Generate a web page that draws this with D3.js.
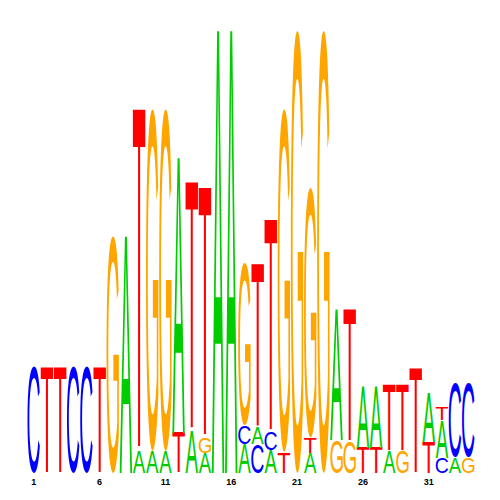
<!DOCTYPE html>
<html>
<head>
<meta charset="utf-8">
<script src="https://cdn.jsdelivr.net/npm/d3@7"></script>
<style>
  body { margin: 0; background: #fff; }
</style>
</head>
<body>
<div id="chart"></div>
<script>
'use strict'

// positions along the motif
const positions = [1,2,3,4,5,6,7,8,9,10,11,12,13,14,15,16,17,18,19,20,21,22,23,24,25,26,27,28,29,30,31,32,33,34];
// letters of each column, bottom to top
const letters = ["C","T","T","C","C","T","G","A","AT","AG","AG","TA","AT","AGT","A","A",
  "ACG","CAT","ACT","TG","G","ATG","G","GA","GT","TA","TA","AT","GT","T","TA","CAT","AC","GC"];
// height of each letter in bits, same order
const bits = [
  [0.48],[0.48],[0.48],[0.48],[0.48],[0.48],[1.07],[1.07],
  [0.10,1.545],[0.10,1.545],[0.10,1.545],[0.18,1.245],[0.19,1.125],[0.09,0.07,1.13],
  [2.0],[2.0],[0.13,0.085,0.73],[0.13,0.075,0.74],[0.105,0.08,0.96],[0.095,1.55],
  [2.0],[0.09,0.07,1.13],[2.0],[0.15,0.59],[0.14,0.6],[0.115,0.28],[0.115,0.28],
  [0.1,0.3],[0.1,0.3],[0.475],[0.14,0.22],[0.07,0.17,0.06],[0.07,0.33],[0.07,0.33]
];
const tickLabels = [1,6,11,16,21,26,31];

const colors = {A: '#00cc00', C: '#0000ff', G: '#ffa500', T: '#ff0000'};

const margin = {top: 30, right: 25, bottom: 27, left: 27};
const width = 500, height = 500;

const svg = d3.select('#chart').append('svg')
  .attr('width', width)
  .attr('height', height);

const xScale = d3.scaleBand()
  .domain(positions)
  .range([margin.left + 0.5, width - margin.right - 0.5])
  .paddingInner(0.05);

const yScale = d3.scaleLinear()
  .domain([0, 2])
  .range([height - margin.bottom, margin.top]);

// ink box of each glyph, measured on a canvas
const fontSize = 100;
const fontFamily = '"Liberation Sans", Arial, sans-serif';
const ctx = document.createElement('canvas').getContext('2d');
ctx.font = fontSize + 'px ' + fontFamily;
const ink = {};
'ACGT'.split('').forEach(ch => {
  const m = ctx.measureText(ch);
  ink[ch] = {
    left: m.actualBoundingBoxLeft,
    ascent: m.actualBoundingBoxAscent,
    w: m.actualBoundingBoxLeft + m.actualBoundingBoxRight,
    h: m.actualBoundingBoxAscent + m.actualBoundingBoxDescent
  };
});

// build one record per letter
const glyphs = [];
positions.forEach((p, i) => {
  let base = 0;
  letters[i].split('').forEach((ch, j) => {
    glyphs.push({pos: p, letter: ch, y0: base, y1: base + bits[i][j]});
    base += bits[i][j];
  });
});

const logo = svg.append('g');

logo.selectAll('text')
  .data(glyphs)
  .enter().append('text')
  .attr('x', d => ink[d.letter].left)
  .attr('y', d => ink[d.letter].ascent)
  .attr('transform', d => {
    const g = ink[d.letter];
    const sx = xScale.bandwidth() / g.w;
    const sy = (yScale(d.y0) - yScale(d.y1)) / g.h;
    return 'translate(' + xScale(d.pos) + ',' + yScale(d.y1) + ') scale(' + sx + ',' + sy + ')';
  })
  .style('font-family', fontFamily)
  .style('font-size', fontSize + 'px')
  .style('fill', d => colors[d.letter])
  .text(d => d.letter);

// x axis with a few position numbers
const xAxis = d3.axisBottom(xScale)
  .tickValues(tickLabels)
  .tickSize(0)
  .tickPadding(6);

const xGuide = svg.append('g')
  .attr('transform', 'translate(0,' + (height - margin.bottom) + ')')
  .call(xAxis);
xGuide.select('.domain').remove();
xGuide.selectAll('text')
  .style('font-family', fontFamily)
  .style('font-weight', 'bold')
  .style('font-size', '9px')
  .style('fill', '#000');
</script>
</body>
</html>
